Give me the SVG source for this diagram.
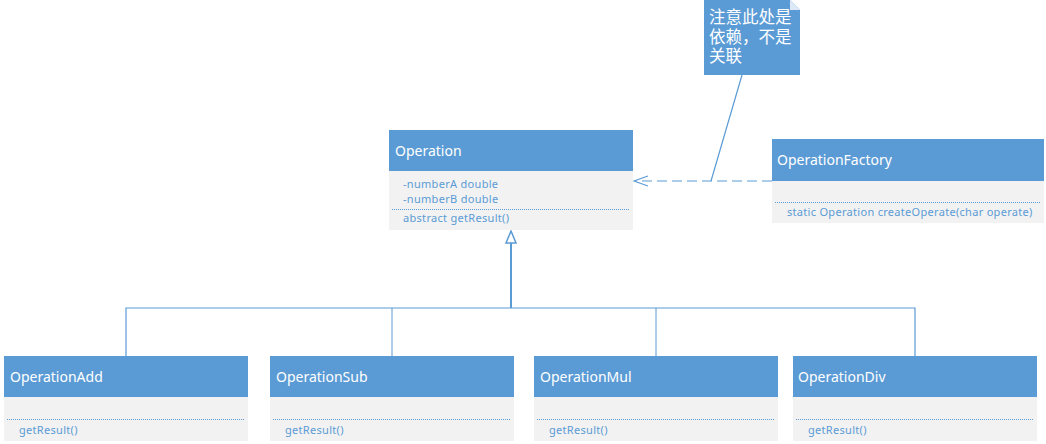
<svg xmlns="http://www.w3.org/2000/svg" width="1046" height="444" viewBox="0 0 1046 444">
<style>
.hdr{fill:#5B9BD5}
.body{fill:#F2F2F2}
.title{font-family:"Noto Sans","Open Sans",sans-serif;font-size:14px;fill:#FFFFFF}
.mem{font-family:"Noto Sans","Open Sans",sans-serif;font-size:11px;letter-spacing:0.3px;fill:#5B9BD5}
.sep{stroke:#5B9BD5;stroke-width:1;stroke-dasharray:1 1;fill:none}
.conn{stroke:#5B9BD5;fill:none}
.note{font-family:"Noto Sans CJK SC","Noto Sans CJK JP",sans-serif;font-size:16.5px;fill:#FFFFFF}
</style>
<rect width="1046" height="444" fill="#FFFFFF"/>
<g id="connectors">
  <line class="conn" x1="511" y1="243" x2="511" y2="308" stroke-width="2"/>
  <polygon points="511,231 506,243 516,243" fill="#FFFFFF" stroke="#5B9BD5" stroke-width="1.5"/>
  <polyline class="conn" points="126,356 126,308 915,308 915,356" stroke-width="1.2"/>
  <line class="conn" x1="392" y1="308" x2="392" y2="356" stroke-width="1"/>
  <line class="conn" x1="656" y1="308" x2="656" y2="356" stroke-width="1"/>
  <line class="conn" x1="772" y1="181" x2="636" y2="181" stroke-width="1.2" stroke-dasharray="10 5"/>
  <polyline class="conn" points="648,176 634,181 648,186" stroke-width="1.2"/>
  <line class="conn" x1="742" y1="75" x2="711" y2="181" stroke-width="1.2"/>
</g>
<g id="note">
  <polygon points="704,0 790,0 800,10 800,75 704,75" fill="#5B9BD5"/>
  <polygon points="790,0 800,10 790,10" fill="#DDE9F6"/>
  <text class="note" x="709" y="23">注意此处是<tspan x="709" y="43">依赖，不是</tspan><tspan x="709" y="62">关联</tspan></text>
</g>
<g id="Operation">
  <rect class="hdr" x="389" y="130" width="244" height="41"/>
  <rect class="body" x="389" y="171" width="244" height="59"/>
  <text class="title" x="395" y="156">Operation</text>
  <text class="mem" x="403" y="188">-numberA double</text>
  <text class="mem" x="403" y="203">-numberB double</text>
  <line class="sep" x1="392" y1="209.5" x2="630" y2="209.5"/>
  <text class="mem" x="403" y="222">abstract getResult()</text>
</g>
<g id="OperationFactory">
  <rect class="hdr" x="772" y="139" width="272" height="42"/>
  <rect class="body" x="772" y="181" width="272" height="42"/>
  <text class="title" x="777" y="165">OperationFactory</text>
  <line class="sep" x1="775" y1="202.5" x2="1041" y2="202.5"/>
  <text class="mem" x="787" y="216">static Operation createOperate(char operate)</text>
</g>
<g id="OperationAdd">
  <rect class="hdr" x="4" y="356" width="244" height="41"/>
  <rect class="body" x="4" y="397" width="244" height="44"/>
  <text class="title" x="10" y="382">OperationAdd</text>
  <line class="sep" x1="7" y1="419.5" x2="245" y2="419.5"/>
  <text class="mem" x="19" y="434">getResult()</text>
</g>
<g id="OperationSub">
  <rect class="hdr" x="270" y="356" width="244" height="41"/>
  <rect class="body" x="270" y="397" width="244" height="44"/>
  <text class="title" x="276" y="382">OperationSub</text>
  <line class="sep" x1="273" y1="419.5" x2="511" y2="419.5"/>
  <text class="mem" x="285" y="434">getResult()</text>
</g>
<g id="OperationMul">
  <rect class="hdr" x="534" y="356" width="244" height="41"/>
  <rect class="body" x="534" y="397" width="244" height="44"/>
  <text class="title" x="540" y="382">OperationMul</text>
  <line class="sep" x1="537" y1="419.5" x2="775" y2="419.5"/>
  <text class="mem" x="549" y="434">getResult()</text>
</g>
<g id="OperationDiv">
  <rect class="hdr" x="793" y="356" width="244" height="41"/>
  <rect class="body" x="793" y="397" width="244" height="44"/>
  <text class="title" x="798" y="382">OperationDiv</text>
  <line class="sep" x1="796" y1="419.5" x2="1034" y2="419.5"/>
  <text class="mem" x="808" y="434">getResult()</text>
</g>
</svg>
